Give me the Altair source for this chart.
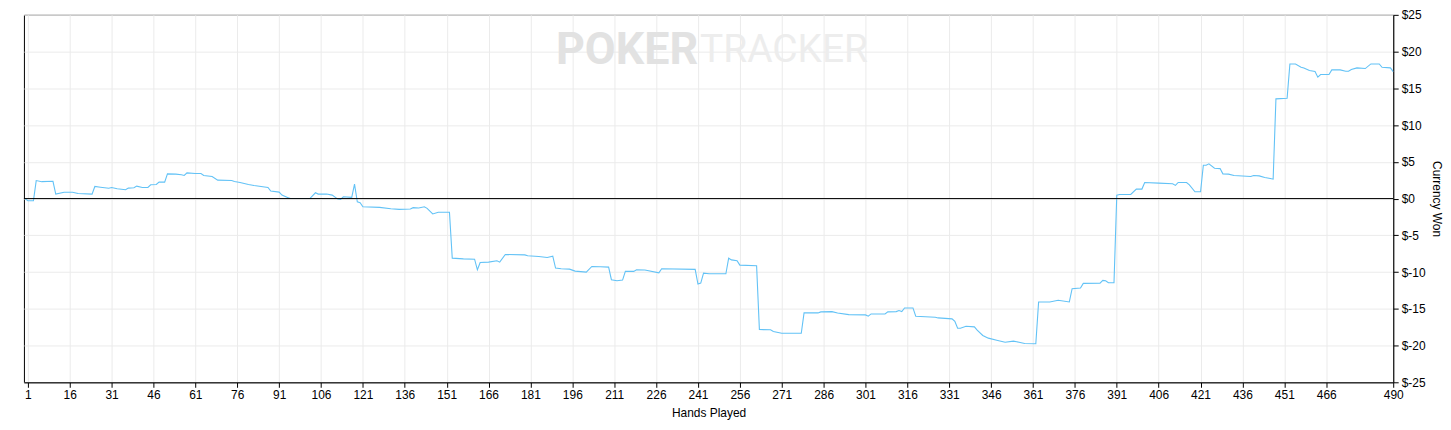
import altair as alt
import pandas as pd

hands = [0, 1, 3, 4, 6, 10, 11, 14, 17, 19, 24, 25, 27, 30, 31, 33, 36, 37, 39, 40,
         42, 44, 45, 47, 48, 50, 51, 54, 56, 57, 58, 61, 63, 64, 67, 69, 74, 75, 77, 80,
         82, 87, 88, 91, 92, 94, 95, 102, 104, 105, 108, 110, 112, 113, 114, 117, 118, 119, 120, 121,
         127, 131, 134, 138, 139, 141, 143, 144, 146, 148, 152, 153, 157, 161, 162, 163, 166, 169, 170, 172,
         179, 180, 184, 187, 189, 190, 192, 195, 197, 201, 203, 206, 209, 210, 212, 214, 215, 218, 219, 222,
         227, 228, 240, 241, 242, 243, 245, 251, 252, 253, 255, 256, 262,
         263, 267, 268, 271, 278, 279, 284, 285, 289, 291, 295, 301, 302, 303, 308, 309, 312, 313, 314, 315,
         318, 319, 326, 327, 332, 333, 334, 335, 337, 340, 341, 343, 345, 348, 351, 354, 356, 358, 362, 363,
         367, 370, 374, 375, 378, 379, 385, 386, 387, 388, 390,
         391, 392, 396, 398, 400, 401, 406, 411, 412, 413, 416, 417, 419, 421, 422, 423, 424, 426, 428, 429,
         431, 433, 439, 440, 442, 444, 446, 447, 448, 452, 453, 455, 457, 458, 460, 462, 463, 464, 467, 468,
         471, 473, 474, 475, 477, 480, 482, 485, 486, 489, 490]

won = [0.0, -0.3, -0.3, 2.45, 2.3, 2.35, 0.6, 0.85, 0.85, 0.7, 0.6, 1.65, 1.55, 1.4, 1.5, 1.33, 1.2, 1.42, 1.47, 1.69,
       1.51, 1.51, 1.87, 1.92, 2.24, 2.24, 3.36, 3.32, 3.23, 3.14, 3.5, 3.41, 3.41, 3.14, 3.0, 2.51, 2.46, 2.33, 2.19, 1.92,
       1.78, 1.51, 1.02, 0.88, 0.47, 0.16, 0.0, 0.0, 0.79, 0.61, 0.61, 0.47, -0.07, -0.11, 0.25, 0.16, 1.96, -0.43, -0.56, -1.11,
       -1.2, -1.38, -1.47, -1.42, -1.24, -1.29, -1.11, -1.33, -2.1, -1.87, -1.87, -8.11, -8.2, -8.25, -9.69, -8.69, -8.65, -8.47, -8.65, -7.61,
       -7.66, -7.79, -7.88, -8.02, -7.84, -9.46, -9.55, -9.6, -9.87, -10.0, -9.24, -9.28, -9.33, -11.04, -11.18, -11.09, -9.91, -9.91, -9.69, -9.73,
       -10.1, -9.55, -9.64, -11.63, -11.5, -10.14, -10.23, -10.23, -8.11, -8.34, -8.47, -9.06, -9.15,
       -17.82, -17.86, -18.09, -18.32, -18.32, -15.56, -15.56, -15.42, -15.38, -15.56, -15.79, -15.83, -16.01, -15.7, -15.7, -15.42, -15.38, -15.24, -15.38, -14.88,
       -14.88, -16.01, -16.15, -16.24, -16.37, -16.69, -17.64, -17.64, -17.37, -17.46, -17.91, -18.63, -18.99, -19.27, -19.54, -19.4, -19.54, -19.72, -19.76, -14.07,
       -14.07, -13.84, -14.07, -12.26, -12.17, -11.54, -11.5, -11.13, -11.18, -11.45, -11.45,
       0.47, 0.56, 0.56, 1.29, 1.29, 2.19, 2.1, 2.01, 1.79, 2.19, 2.19, 1.87, 0.92, 0.92, 4.54, 4.54, 4.72, 4.13, 4.08, 3.36,
       3.32, 3.14, 3.0, 3.14, 3.09, 2.87, 2.73, 2.64, 13.57, 13.66, 18.32, 18.32, 17.87, 17.78, 17.42, 17.28, 16.52, 16.88, 16.88, 17.51,
       17.51, 17.33, 17.33, 17.55, 17.78, 17.69, 18.32, 18.32, 17.87, 17.78, 17.28]

x_ticks = [1, 16, 31, 46, 61, 76, 91, 106, 121, 136, 151, 166, 181, 196, 211, 226, 241,
           256, 271, 286, 301, 316, 331, 346, 361, 376, 391, 406, 421, 436, 451, 466, 490]
y_ticks = [-25, -20, -15, -10, -5, 0, 5, 10, 15, 20, 25]
zero_line = [0]

df = pd.DataFrame({"hand": hands, "won": won})
zero_df = pd.DataFrame({"won": zero_line})

FONT = "Liberation Sans"

x_scale = alt.Scale(domain=[-0.4, 490], nice=False, zero=False)
y_scale = alt.Scale(domain=[-25, 25], nice=False)

x_enc = alt.X(
    "hand:Q",
    scale=x_scale,
    axis=alt.Axis(values=x_ticks, title="Hands Played", grid=True, gridColor="#ebebeb",
                  domainColor="black", tickColor="black", tickSize=5, labelColor="black",
                  labelFont=FONT, labelFontSize=12, titleFont=FONT, titleFontSize=12,
                  titleFontWeight="normal", titleColor="black", titlePadding=7,
                  labelPadding=2, labelFlush=False, labelOverlap=False),
)
y_axis = alt.Axis(orient="right", values=y_ticks, labelExpr="'$' + datum.value",
                  title="Currency Won", grid=True, gridColor="#ebebeb",
                  domainColor="black", tickColor="black", tickSize=5, labelColor="black",
                  labelFont=FONT, labelFontSize=12, titleFont=FONT, titleFontSize=12,
                  titleFontWeight="normal", titleColor="black", titlePadding=4,
                  labelPadding=3, labelFlush=False, labelOverlap=False)

watermark1 = alt.Chart(pd.DataFrame({"t": ["POKER"]})).mark_text(
    font="Roboto", fontSize=45, fontWeight="bold", color="#e2e2e2", align="right", baseline="middle"
).encode(text="t:N", x=alt.value(677), y=alt.value(35))
watermark2 = alt.Chart(pd.DataFrame({"t": ["TRACKER"]})).mark_text(
    font="Roboto", fontSize=39, fontWeight="normal", color="#ededed", align="left", baseline="middle"
).encode(text="t:N", x=alt.value(679), y=alt.value(35))

line = alt.Chart(df).mark_line(color="#62c2f6", strokeWidth=1.1).encode(
    x=x_enc, y=alt.Y("won:Q", scale=y_scale, axis=y_axis)
)

zero = alt.Chart(zero_df).mark_rule(color="black", strokeWidth=1).encode(
    y=alt.Y("won:Q", scale=y_scale, axis=y_axis)
)

chart = alt.layer(watermark1, watermark2, line, zero).properties(
    width=1375, height=369, padding={"left": 14, "top": 0, "right": 0, "bottom": 2},
    background="white",
).configure_view(stroke="black", strokeWidth=1)

chart.save("out.html", embed_options={"renderer": "svg", "actions": False})
